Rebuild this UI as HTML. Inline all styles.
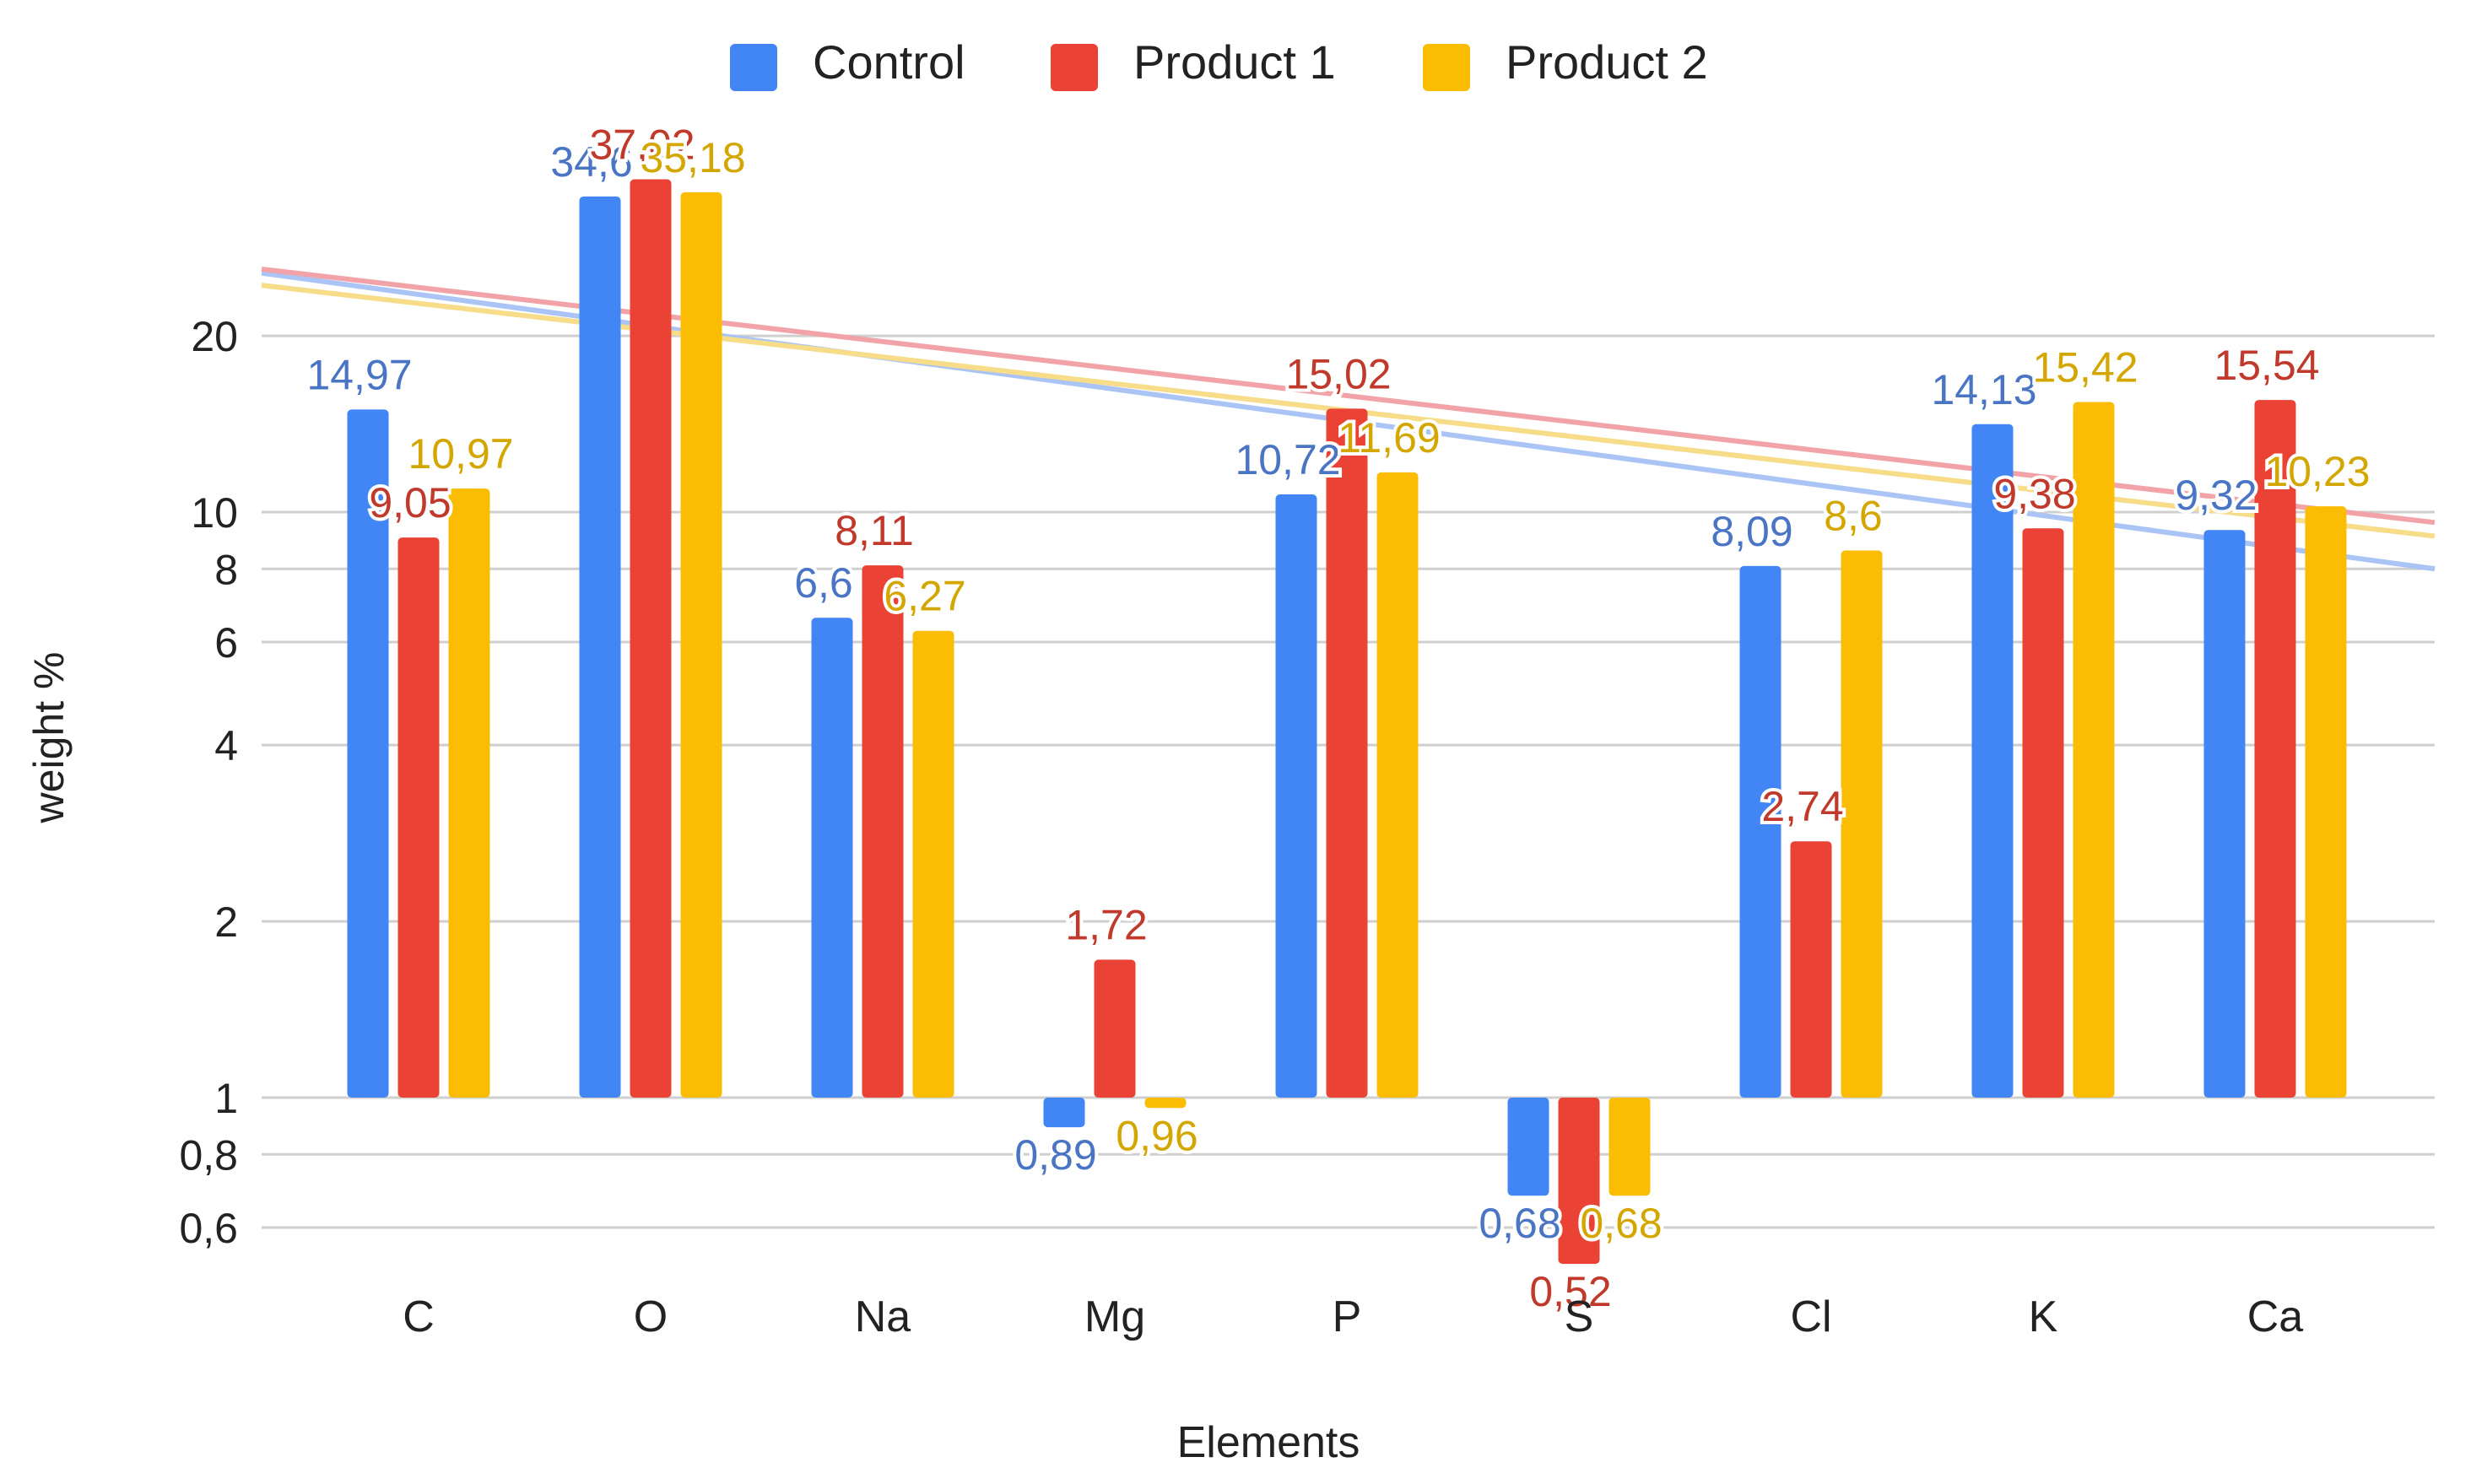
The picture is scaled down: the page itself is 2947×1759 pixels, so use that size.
<!DOCTYPE html>
<html><head><meta charset="utf-8"><style>
html,body{margin:0;padding:0;background:#fff;}
svg{display:block;font-family:"Liberation Sans",Arial,sans-serif;}
</style></head><body>
<svg id="chart" width="2947" height="1759" viewBox="0 0 2947 1759">
<g id="grid"></g>
<g id="trend"></g>
<g id="bars"></g>
<g id="labels"></g>
<g id="axes"></g>
<g>
  <rect x="865" y="52" width="56" height="56" rx="6" fill="#4285F4"/>
  <text x="963" y="93" font-size="56" fill="#222">Control</text>
  <rect x="1245" y="52" width="56" height="56" rx="6" fill="#EA4335"/>
  <text x="1343" y="93" font-size="56" fill="#222">Product 1</text>
  <rect x="1686" y="52" width="56" height="56" rx="6" fill="#FBBC04"/>
  <text x="1784" y="93" font-size="56" fill="#222">Product 2</text>
</g>
<text x="1503" y="1727" font-size="52" text-anchor="middle" fill="#222">Elements</text>
<text transform="translate(75,874) rotate(-90)" font-size="50" text-anchor="middle" fill="#222">weight %</text>
</svg>
<script>
const categories = ["C","O","Na","Mg","P","S","Cl","K","Ca"];
const seriesNames = ["Control","Product 1","Product 2"];
const control = [14.97,34.6,6.6,0.89,10.72,0.68,8.09,14.13,9.32];
const product1 = [9.05,37.02,8.11,1.72,15.02,0.52,2.74,9.38,15.54];
const product2 = [10.97,35.18,6.27,0.96,11.69,0.68,8.6,15.42,10.23];
const tickValues = [0.6,0.8,1,2,4,6,8,10,20];
const tickLabels = ["0,6","0,8","1","2","4","6","8","10","20"];
// trendline values at left and right edge of plot (Control, Product 1, Product 2)
const trendStart = [25.6,26.0,24.4];
const trendEnd = [8.0,9.6,9.1];

const colors = ["#4285F4","#EA4335","#FBBC04"];
const textColors = ["#4a74c4","#c0392b","#d4a600"];
const trendColors = ["#a9c4f5","#f2a3a8","#f7dc8a"];
const NS = "http://www.w3.org/2000/svg";
const plotL = 310, plotR = 2885;
const y1 = 1301, decade = 694;
function yScale(v){ return y1 - Math.log10(v)*decade; }
const firstX = 496, step = 275;
function xScale(i){ return firstX + step*i; }
function mk(tag, attrs, parent){ const e=document.createElementNS(NS,tag); for(const k in attrs) e.setAttribute(k,attrs[k]); parent.appendChild(e); return e; }
const grid=document.getElementById('grid'), bars=document.getElementById('bars'), labels=document.getElementById('labels'), axes=document.getElementById('axes'), trend=document.getElementById('trend');

tickValues.forEach((t,i)=>{
  const y=yScale(t);
  const l=mk('line',{x1:plotL,x2:plotR,y1:y,y2:y,stroke:'#cfcfcf','stroke-width':3},grid);
  
  
  const tx=mk('text',{x:282,y:y+18,'font-size':50,'text-anchor':'end',fill:'#222'},axes);
  tx.textContent=tickLabels[i];
  
  
});
categories.forEach((c,i)=>{
  const tx=mk('text',{x:xScale(i),y:1578,'font-size':52,'text-anchor':'middle',fill:'#222'},axes);
  tx.textContent=c;
  
  
});

const series=[control,product1,product2];
const bw=49, off=60;
trendStart.forEach((v,si)=>{
  const l=mk('line',{x1:plotL,y1:yScale(v),x2:plotR,y2:yScale(trendEnd[si]),stroke:trendColors[si],'stroke-width':6},trend);
  
  
});
series.forEach((s,si)=>{
  s.forEach((v,i)=>{
    const cx=xScale(i)+(si-1)*off;
    const yv=yScale(v);
    const top=Math.min(yv,y1), h=Math.abs(yv-y1);
    const r=mk('rect',{x:cx-bw/2,y:top,width:bw,height:Math.max(h,1),rx:5,fill:colors[si]},bars);
    
    
    const ly = v>=1 ? yv-24 : yv+50;
    const tx=mk('text',{x:cx-10,y:ly,'font-size':50,'text-anchor':'middle',fill:textColors[si],stroke:'#fff','stroke-width':8,'paint-order':'stroke'},labels);
    tx.textContent=String(v).replace('.',',');
    
    
  });
});
</script>
</body></html>
